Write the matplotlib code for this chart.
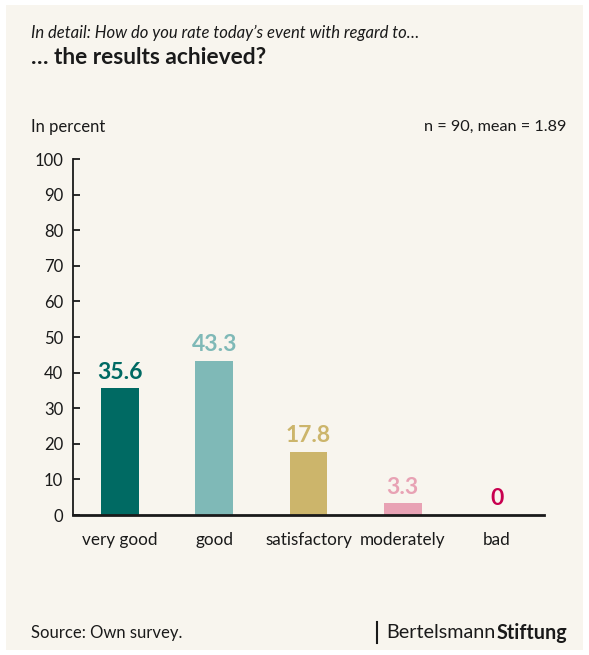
import matplotlib
matplotlib.use("Agg")
import matplotlib.pyplot as plt
from matplotlib.patches import Rectangle
from matplotlib.lines import Line2D

plt.rcParams['font.family'] = ['Lato', 'DejaVu Sans']

categories = ["very good", "good", "satisfactory", "moderately", "bad"]
values = [35.6, 43.3, 17.8, 3.3, 0]
labels = ["35.6", "43.3", "17.8", "3.3", "0"]
colors = ["#006A63", "#7FB9B7", "#CCB56B", "#E8A2B4", "#C8004F"]
yticks = [0, 10, 20, 30, 40, 50, 60, 70, 80, 90, 100]

W, H = 589, 655
fig = plt.figure(figsize=(W / 100, H / 100), dpi=100)
fig.patch.set_facecolor("white")
bg = "#F8F5EE"
fig.add_artist(Rectangle((6 / W, 1 - 650 / H), 577 / W, 645 / H,
                         transform=fig.transFigure, facecolor=bg, edgecolor="none", zorder=-10))

ax = fig.add_axes([73 / W, 1 - 515 / H, 471 / W, 356 / H])
ax.set_facecolor(bg)
x = list(range(len(categories)))
ax.bar(x, values, width=0.4, color=colors, zorder=2)
for xi, v, lab, c in zip(x, values, labels, colors):
    ax.annotate(lab, (xi, v), xytext=(0, 4), textcoords="offset points",
                ha="center", va="bottom", fontsize=16.5, fontweight="bold", color=c)

ax.set_xlim(-0.5, 4.5)
ax.set_ylim(0, 100)
ax.set_yticks(yticks)
ax.set_xticks(x)
ax.set_xticklabels(categories)
for s in ["top", "right"]:
    ax.spines[s].set_visible(False)
ax.spines["left"].set_linewidth(1.3)
ax.spines["left"].set_color("#1a1a1a")
ax.spines["bottom"].set_linewidth(2.0)
ax.spines["bottom"].set_color("#1a1a1a")
ax.tick_params(axis="y", direction="in", length=5, width=1.3, color="#1a1a1a",
               labelsize=12, pad=7, labelcolor="#1a1a1a")
ax.tick_params(axis="x", length=0, labelsize=12.3, pad=12, labelcolor="#1a1a1a")

fig.text(31 / W, 1 - 33 / H, "In detail: How do you rate today\u2019s event with regard to\u2026",
         fontsize=12, style="italic", color="#1a1a1a", va="center", ha="left")
fig.text(31 / W, 1 - 58 / H, "\u2026 the results achieved?",
         fontsize=16.4, fontweight="bold", color="#1a1a1a", va="center", ha="left")
fig.text(31 / W, 1 - 127 / H, "In percent", fontsize=12, color="#1a1a1a", va="center", ha="left")
fig.text(566 / W, 1 - 127 / H, "n = 90, mean = 1.89", fontsize=11.7, color="#1a1a1a",
         va="center", ha="right")
fig.text(31 / W, 1 - 633 / H, "Source: Own survey.", fontsize=12, color="#1a1a1a",
         va="center", ha="left")

fig.add_artist(Line2D([377 / W, 377 / W], [1 - 643 / H, 1 - 622 / H],
                      transform=fig.transFigure, color="#1a1a1a", lw=1.5))
t1 = fig.text(386 / W, 1 - 633 / H, "Bertelsmann", fontsize=14.2, color="#1a1a1a",
              va="center", ha="left")
fig.canvas.draw()
bb = t1.get_window_extent()
fig.text(bb.x1 / W + 1 / W, 1 - 633 / H, "Stiftung", fontsize=14.2, fontweight="bold",
         color="#1a1a1a", va="center", ha="left")

fig.savefig("out.png", dpi=100, facecolor=fig.get_facecolor())
